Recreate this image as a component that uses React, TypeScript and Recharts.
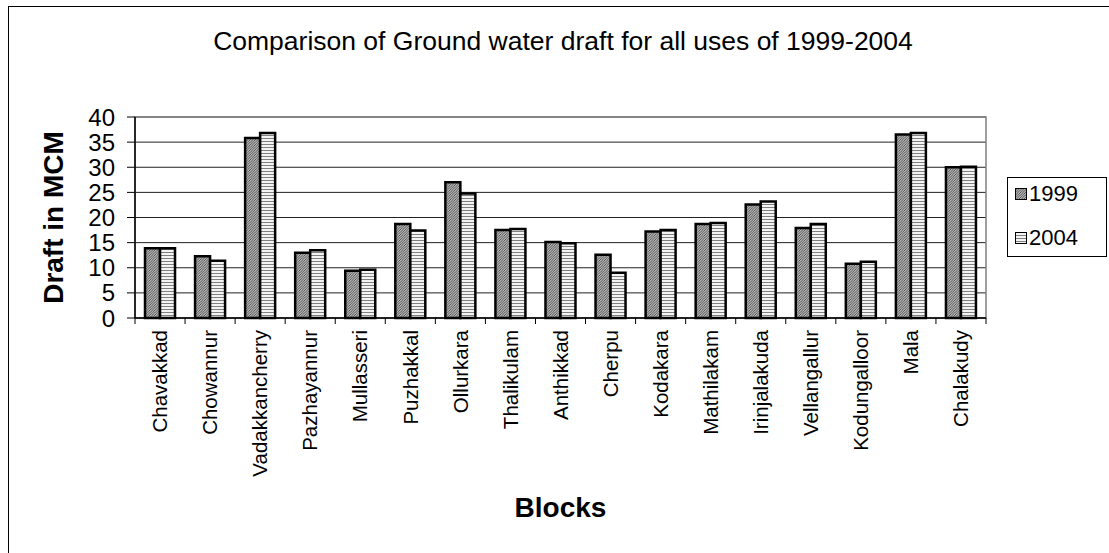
import * as React from 'react';
import { BarChart, Bar, CartesianGrid, XAxis, YAxis, Legend, Label, ReferenceArea } from 'recharts';

const blocks = [
  'Chavakkad', 'Chowannur', 'Vadakkancherry', 'Pazhayannur', 'Mullasseri', 'Puzhakkal',
  'Ollurkara', 'Thalikulam', 'Anthikkad', 'Cherpu', 'Kodakara', 'Mathilakam',
  'Irinjalakuda', 'Vellangallur', 'Kodungalloor', 'Mala', 'Chalakudy',
];
const draft1999 = [13.9, 12.3, 35.8, 13.0, 9.4, 18.7, 27.0, 17.5, 15.1, 12.6, 17.2, 18.7, 22.6, 17.9, 10.8, 36.5, 30.0];
const draft2004 = [13.9, 11.4, 36.8, 13.5, 9.6, 17.4, 24.8, 17.7, 14.9, 9.0, 17.5, 18.9, 23.2, 18.7, 11.2, 36.8, 30.1];
const yTicks = [0, 5, 10, 15, 20, 25, 30, 35, 40];

const data = blocks.map((block, i) => ({ block, y1999: draft1999[i], y2004: draft2004[i] }));

const font = "Arial, 'Liberation Sans', sans-serif";
const fills: { [key: string]: string } = { y1999: 'url(#hatch1999)', y2004: 'url(#lines2004)' };

// category label, rotated, plus tick marks on the band edges (Excel style)
const BlockTick = (props: any) => {
  const { x, y, payload, index, width, visibleTicksCount } = props;
  const band = width / (visibleTicksCount || blocks.length);
  return (
    <g transform={`translate(${x},${y})`}>
      <line x1={-band / 2} y1={0} x2={-band / 2} y2={6} stroke="#000" />
      {index === blocks.length - 1 && <line x1={band / 2} y1={0} x2={band / 2} y2={6} stroke="#000" />}
      <text transform="rotate(-90)" x={-12} y={0} dy="0.35em" textAnchor="end" fontSize={20.5} fill="#000" fontFamily={font}>
        {payload.value}
      </text>
    </g>
  );
};

const renderLegend = (props: any) => (
  <div style={{ fontFamily: font, fontSize: 22, color: '#000' }}>
    {(props.payload || []).map((entry: any, i: number) => (
      <div key={entry.value} style={{ position: 'absolute', left: 7, top: 4 + i * 44, height: 24, display: 'flex', alignItems: 'center' }}>
        <svg width={12} height={12} style={{ marginRight: 2 }}>
          <rect x={0.5} y={0.5} width={11} height={11} fill={fills[entry.dataKey]} stroke="#000" strokeWidth={1} />
        </svg>
        <span>{entry.value}</span>
      </div>
    ))}
  </div>
);

const App = () => {
  return (
    <div style={{ position: 'absolute', left: 0, top: 0, width: 1109, height: 553, overflow: 'hidden', background: '#fff' }}>
      <svg width={0} height={0} style={{ position: 'absolute' }}>
        <defs>
          <pattern id="hatch1999" width={2.5} height={2.5} patternUnits="userSpaceOnUse">
            <rect width={2.5} height={2.5} fill="#eee" />
            <path d="M-1,1 L1,-1 M0,2.5 L2.5,0 M1.5,3.5 L3.5,1.5" stroke="#333" strokeWidth={0.9} />
          </pattern>
          <pattern id="lines2004" width={3} height={3} patternUnits="userSpaceOnUse">
            <rect width={3} height={3} fill="#f4f4f4" />
            <rect y={0} width={3} height={1} fill="#808080" />
          </pattern>
        </defs>
      </svg>
      <div style={{ position: 'absolute', left: 8, top: 6, width: 1101, height: 547, borderLeft: '1px solid #000', borderTop: '1px solid #000' }} />
      <div style={{ position: 'absolute', left: 0, top: 26, width: 1126, lineHeight: '30px', textAlign: 'center', fontFamily: font, fontSize: 26.5, color: '#000' }}>
        Comparison of Ground water draft for all uses of 1999-2004
      </div>
      <div style={{ position: 'absolute', left: 0, top: 0 }}>
        <BarChart
          width={1109}
          height={553}
          data={data}
          margin={{ top: 117, right: 123, left: 75, bottom: 15 }}
          barCategoryGap="20%"
          barGap={0}
        >
          <CartesianGrid vertical={false} stroke="#222" />
          <XAxis
            dataKey="block"
            interval={0}
            height={220}
            tickLine={false}
            tickSize={0}
            tickMargin={0}
            axisLine={{ stroke: '#000', strokeWidth: 1.5 }}
            tick={<BlockTick />}
          >
            <Label
              content={(p: any) => (
                <text
                  x={p.viewBox.x + p.viewBox.width / 2}
                  y={517}
                  textAnchor="middle"
                  fontSize={28}
                  fontWeight="bold"
                  fontFamily={font}
                  fill="#000"
                >
                  Blocks
                </text>
              )}
            />
          </XAxis>
          <YAxis
            width={60}
            domain={[0, 40]}
            ticks={yTicks}
            interval={0}
            tickSize={8}
            tickMargin={12}
            axisLine={{ stroke: '#000', strokeWidth: 1.5 }}
            tickLine={{ stroke: '#000' }}
            tick={{ fontSize: 24, fill: '#000', fontFamily: font }}
          >
            <Label
              content={(p: any) => {
                const cy = p.viewBox.y + p.viewBox.height / 2;
                return (
                  <text
                    x={63}
                    y={cy}
                    transform={`rotate(-90, 63, ${cy})`}
                    textAnchor="middle"
                    fontSize={28}
                    fontWeight="bold"
                    fontFamily={font}
                    fill="#000"
                  >
                    Draft in MCM
                  </text>
                );
              }}
            />
          </YAxis>
          <ReferenceArea y1={0} y2={40} fill="none" stroke="#808080" strokeWidth={1.5} ifOverflow="visible" />
          <Legend
            layout="vertical"
            align="center"
            verticalAlign="middle"
            wrapperStyle={{ left: 1007, top: 177, width: 100, height: 80, border: '1px solid #000', boxSizing: 'border-box', background: '#fff' }}
            content={renderLegend}
          />
          <Bar dataKey="y1999" name="1999" fill="url(#hatch1999)" stroke="#000" strokeWidth={2.5} isAnimationActive={false} />
          <Bar dataKey="y2004" name="2004" fill="url(#lines2004)" stroke="#000" strokeWidth={2.5} isAnimationActive={false} />
        </BarChart>
      </div>
    </div>
  );
};

export default App;
